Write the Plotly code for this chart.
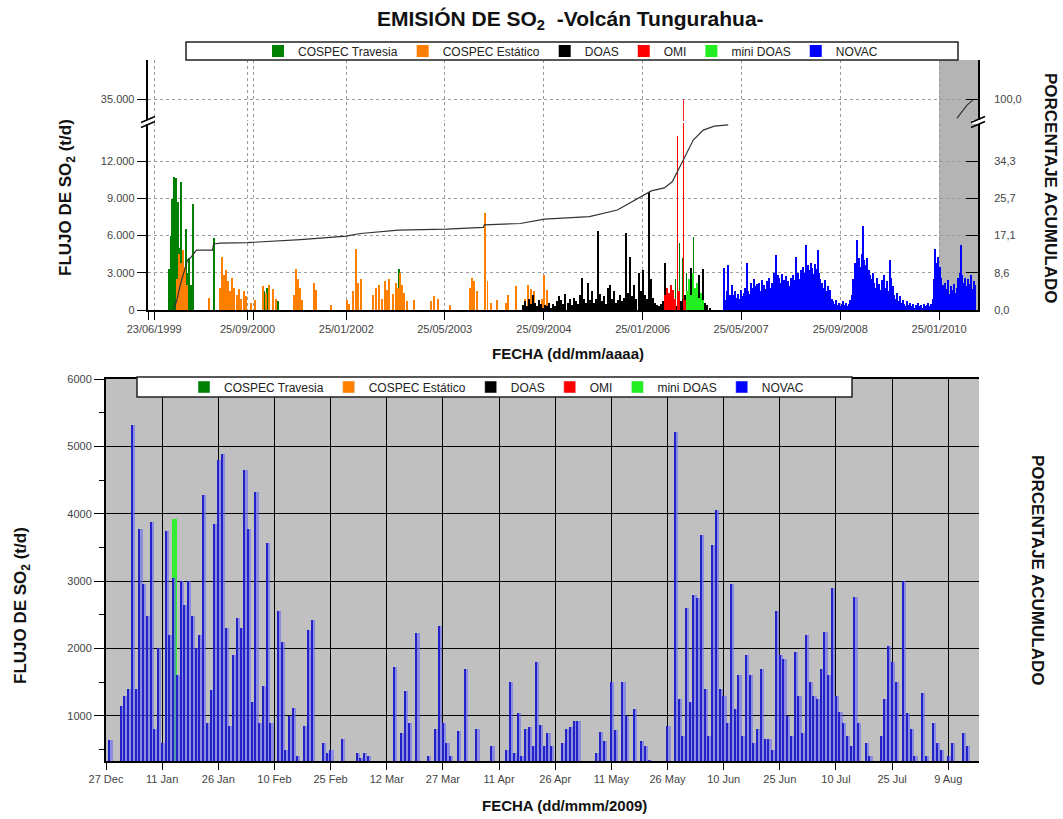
import plotly.graph_objects as go
import pandas as pd
from datetime import datetime

W, H = 1063, 819
def X(px): return px / W
def Y(py): return 1 - py / H

def yr(v):
    y = int(v)
    s = datetime(y, 1, 1)
    e = datetime(y + 1, 1, 1)
    return s + (e - s) * (v - y)

DAY = 86400000
FONT = "Liberation Sans, Arial, sans-serif"

# ---------------- DATA (top chart, dates as decimal years) ----------------
series_names = ["COSPEC Travesia", "COSPEC Estático", "DOAS", "OMI", "mini DOAS", "NOVAC"]

trav_yr = [1999.668, 1999.695, 1999.708, 1999.722, 1999.735, 1999.749, 1999.762, 1999.776,
           1999.789, 1999.803, 1999.830, 1999.843, 1999.870, 1999.897, 1999.910, 1999.937,
           1999.964, 1999.991, 2000.275, 2000.639, 2000.949, 2000.990, 2001.070, 2001.138,
           2002.770, 2006.506, 2006.560, 2006.600, 2006.654, 2006.708, 2006.749, 2006.802,
           2006.870]
trav_val = [3300, 6000, 8900, 7500, 10700, 9800, 10600, 4000,
            8700, 5000, 10300, 4500, 2500, 6500, 3000, 4200,
            2000, 8500, 5800, 900, 1500, 1800, 1000, 700,
            3300, 2500, 5400, 4200, 3000, 1800, 5900, 2200,
            1500]

est_yr = [1999.776, 1999.803, 1999.830, 1999.857, 1999.884, 1999.910, 2000.207, 2000.356,
          2000.383, 2000.410, 2000.437, 2000.464, 2000.491, 2000.518, 2000.545, 2000.585,
          2000.612, 2000.639, 2000.679, 2000.706, 2000.774, 2000.828, 2000.936, 2000.976,
          2001.017, 2001.070, 2001.111, 2001.354, 2001.381, 2001.408, 2001.435, 2001.462,
          2001.624, 2001.651, 2001.853, 2002.069, 2002.096, 2002.150, 2002.190, 2002.217,
          2002.257, 2002.419, 2002.460, 2002.500, 2002.541, 2002.581, 2002.608, 2002.635,
          2002.689, 2002.729, 2002.756, 2002.783, 2002.810, 2002.837, 2002.878, 2002.972,
          2003.201, 2003.242, 2003.296, 2003.458, 2003.727, 2003.754, 2003.781, 2003.822,
          2003.930, 2003.970, 2004.011, 2004.092, 2004.213, 2004.240, 2004.348, 2004.469,
          2004.510, 2004.550, 2004.591, 2004.699, 2004.726, 2004.766]
est_val = [2500, 4500, 3800, 4800, 3500, 2000, 1000, 1800,
           4300, 2800, 3200, 2300, 1500, 2600, 1800, 1200,
           1700, 900, 1500, 1100, 600, 800, 1900, 1400,
           2000, 1700, 900, 1200, 3300, 2500, 1800, 800,
           2200, 1600, 400, 800, 500, 1500, 4900, 2200,
           2500, 1200, 1800, 2000, 900, 2300, 1600, 2500,
           1300, 2200, 1800, 3000, 2000, 1400, 700, 800,
           700, 1100, 900, 400, 1800, 2600, 2300, 1500,
           7800, 2300, 600, 800, 600, 1200, 1900, 900,
           2000, 1700, 1500, 900, 2800, 1600]

doas_start = "2004-06-13"   # one value every 10 days
doas_val = [400, 700, 300, 900, 500, 1200, 600, 300, 800,
            500, 200, 400, 300, 600, 200, 500, 300, 700,
            1100, 800, 500, 1300, 600, 900, 400, 1000, 700,
            500, 1200, 2600, 900, 600, 2200, 800, 1500, 600,
            900, 6400, 1300, 700, 1100, 500, 1800, 2000, 900,
            1500, 600, 800, 1200, 700, 1000, 6200, 1400, 4300,
            1100, 2000, 900, 3000, 1500, 3200, 1200, 900, 9500,
            2500, 1000, 600, 400, 300, 500, 700, 3800, 1500,
            1000, 600, 400, 800, 300, 500, 700, 900, 1200,
            800, 1500, 3400, 2500, 1800, 1000, 2800, 1200,
            3300, 600, 400, 200]

omi_yr = [2006.371, 2006.398, 2006.425, 2006.452, 2006.479, 2006.506, 2006.533, 2006.560,
          2006.614, 2006.641]
omi_val = [1200, 1800, 1400, 2000, 1600, 900, 14000, 1500, 35000, 800]

mini_yr = [2006.654, 2006.681, 2006.708, 2006.735, 2006.762, 2006.789, 2006.816, 2006.843,
           2006.883]
mini_val = [1500, 2500, 1200, 3000, 1800, 2200, 1000, 1400, 800]

novac_start = "2007-03-01"  # weekly values
novac_val = [3400, 800, 1500, 3600, 1200, 900, 2000,
             1200, 1500, 1000, 1300, 900, 1600, 1100, 1400, 1800, 3800,
             1500, 1300, 2200, 1800, 2500, 1900, 2100, 1600, 2200, 1500, 2400, 2000, 1700, 2300,
             2000, 2600, 1800, 2200, 3000, 2500, 4400, 2800,
             2600, 2200, 2900, 2400, 2000, 2700, 2300, 1900, 2600, 2100, 2800, 2400, 4300,
             3000, 2500, 3200, 2800, 3500, 3000,
             5200,
             3600, 3200, 3800, 3400, 2900, 3700, 3300, 4800, 3000, 2500,
             2200, 1800, 2400, 1500, 1900, 1200, 1600,
             900, 700, 500, 800, 400, 600, 300, 500, 700, 400, 600, 300, 500,
             800, 1200, 2500, 3800, 2900, 5600, 4200,
             3500, 4500, 6800, 4000, 3600, 4200, 3200, 2800,
             2500, 3000, 2200, 1800, 2600, 2100, 1600, 2400, 2000, 2800, 1800, 2300, 1500, 4000,
             2600, 1900, 1200, 900, 1400, 700, 1100, 600, 800,
             500, 300, 700, 400, 600, 300, 500, 200, 400, 300, 600, 300, 400, 200, 500, 300,
             400, 600, 300, 500, 900, 2500,
             4900, 3800, 4300, 3500, 2600,
             2000, 1500, 2200, 1700, 2400, 1300, 1900, 1600, 2100, 1400, 1800, 2600,
             3000, 5200, 2800, 2200, 2600,
             1900, 2500, 2100, 2800, 1700, 2300, 2000]

cum_yr = [1999.735, 1999.776, 1999.830, 1999.884, 1999.924, 1999.964, 2000.045, 2000.261,
          2000.275, 2000.369, 2000.733, 2001.448, 2002.069, 2002.257, 2002.770, 2003.417,
          2003.916, 2003.930, 2004.415, 2004.739, 2005.346, 2005.724, 2006.007, 2006.182,
          2006.357, 2006.465, 2006.614, 2006.749, 2006.884, 2007.033, 2007.221]
cum_pct = [0.3, 2.0, 6.0, 9.5, 11.5, 12.0, 13.8, 13.8,
           15.2, 15.4, 15.5, 16.2, 17.0, 17.6, 18.4, 18.6,
           19.0, 19.6, 19.9, 20.9, 21.5, 23.0, 25.8, 27.4,
           28.1, 29.5, 34.5, 39.1, 41.4, 42.3, 42.6]
cum2_yr = [2010.309, 2010.444, 2010.525]
cum2_pct = [95.6, 98.6, 99.8]

top_tick_dates = ["1999-05-25", "1999-06-23", "2000-09-25", "2000-10-23", "2002-01-25",
                  "2003-05-25", "2004-09-25", "2006-01-25", "2007-05-25", "2008-09-25",
                  "2010-01-25"]
top_tick_text = [" ", "23/06/1999", "25/09/2000", " ", "25/01/2002",
                 "25/05/2003", "25/09/2004", "25/01/2006", "25/05/2007", "25/09/2008",
                 "25/01/2010"]
flux_ticks = [0, 3000, 6000, 9000, 12000]
flux_text = ["0", "3.000", "6.000", "9.000", "12.000"]
flux_hi_ticks = [35000]
flux_hi_text = ["35.000"]
pct_ticks = [0, 60 / 7, 120 / 7, 180 / 7, 240 / 7]
pct_text = ["0,0", "8,6", "17,1", "25,7", "34,3"]
pct_hi_ticks = [100]
pct_hi_text = ["100,0"]
full_flux = 35000  # 100 %

# ---------------- DATA (bottom chart, daily NOVAC 2009) ----------------
bot_start = "2008-12-27"
bot_novac = [0, 640, 0, 0, 1150, 1300, 1400, 5320, 1400, 3780,
             2950, 2480, 3880, 800, 2000, 600, 3750, 2200, 3050, 1600,
             3000, 2650, 3000, 2480, 2000, 2200, 4280, 900, 1380, 3850,
             4800, 4880, 2300, 850, 1900, 2450, 2300, 4650, 3780, 1200,
             4330, 900, 1450, 3560, 900, 300, 2550, 2100, 500, 1000,
             1120, 400, 0, 850, 2270, 2420, 0, 0, 600, 450,
             500, 0, 0, 650, 0, 0, 0, 450, 380, 450,
             400, 0, 0, 0, 0, 0, 0, 1730, 0, 750,
             1370, 900, 0, 2230, 0, 0, 400, 0, 800, 2330,
             900, 600, 400, 0, 780, 0, 1700, 0, 0, 800,
             0, 0, 0, 560, 0, 0, 0, 500, 1500, 450,
             1040, 400, 800, 840, 560, 1800, 870, 550, 750, 560,
             0, 0, 600, 800, 830, 920, 920, 0, 0, 0,
             0, 450, 760, 630, 0, 1500, 790, 0, 1500, 1000,
             0, 1100, 0, 620, 550, 350, 0, 0, 0, 0,
             850, 0, 5220, 1250, 700, 2600, 1200, 2800, 2750, 3690,
             1400, 700, 3540, 4060, 1400, 1300, 900, 2950, 1100, 1600,
             700, 1900, 1600, 600, 800, 1700, 650, 650, 500, 2550,
             1900, 1850, 1000, 700, 1950, 1300, 750, 2200, 1500, 1300,
             1250, 1700, 2250, 1600, 2900, 1300, 1050, 900, 700, 560,
             2770, 900, 0, 600, 400, 0, 0, 700, 1250, 2030,
             1800, 1500, 0, 3000, 1040, 800, 400, 0, 1340, 400,
             0, 900, 600, 500, 0, 400, 600, 0, 0, 750,
             550, 0, 0]
bot_mini_dates = ["2009-01-14"]
bot_mini_vals = [3920]
bot_pct_ticks = [1000 / 350, 2000 / 350, 3000 / 350, 4000 / 350, 5000 / 350, 6000 / 350]
bot_pct_text = ["2,9", "5,7", "8,6", "11,4", "14,3", "17,1"]

colors = ["#008000", "#ff8000", "#000000", "#ff0000", "#22ee22", "#0000ff"]

# ---------------- FIGURE ----------------
fig = go.Figure()

# OMI: wide bars for the cluster, thin lines for the two tall spikes
omi_width = [(2 if v > 10000 else 8) * DAY for v in omi_val]
top_series = [
    ([yr(v) for v in trav_yr], trav_val, 4 * DAY),
    ([yr(v) for v in est_yr], est_val, 4 * DAY),
    (list(pd.date_range(doas_start, periods=len(doas_val), freq="10D")), doas_val, 7 * DAY),
    ([yr(v) for v in omi_yr], omi_val, omi_width),
    ([yr(v) for v in mini_yr], mini_val, 5 * DAY),
    (list(pd.date_range(novac_start, periods=len(novac_val), freq="7D")), novac_val, 7 * DAY),
]
for name, col, (xs, ys, wd) in zip(series_names, colors, top_series):
    fig.add_trace(go.Bar(x=xs, y=ys, name=name, width=wd,
                         marker=dict(color=col, line=dict(width=0)),
                         xaxis="x", yaxis="y", legend="legend"))
# upper (broken) panel: only OMI exceeds the break
fig.add_trace(go.Bar(x=[yr(v) for v in omi_yr], y=omi_val, width=omi_width,
                     marker=dict(color="#ff3030", line=dict(width=0)),
                     xaxis="x", yaxis="y3", showlegend=False))
fig.add_trace(go.Scatter(x=[yr(v) for v in cum_yr], y=cum_pct, mode="lines",
                         line=dict(color="#333333", width=1.2),
                         xaxis="x", yaxis="y2", showlegend=False))
fig.add_trace(go.Scatter(x=[yr(v) for v in cum2_yr], y=cum2_pct, mode="lines",
                         line=dict(color="#333333", width=1.2),
                         xaxis="x", yaxis="y4", showlegend=False))

# bottom chart: legend entries (zero-height placeholders) + data
for name, col in zip(series_names, colors):
    fig.add_trace(go.Bar(x=[bot_start], y=[0], name=name, marker=dict(color=col),
                         xaxis="x2", yaxis="y5", legend="legend2"))
bot_dates = pd.date_range(bot_start, periods=len(bot_novac), freq="D")
fig.add_trace(go.Bar(x=pd.to_datetime(bot_mini_dates), y=bot_mini_vals,
                     width=1.4 * DAY, offset=-0.5 * DAY,
                     marker=dict(color="#33ee33", line=dict(width=0)),
                     xaxis="x2", yaxis="y5", showlegend=False))
fig.add_trace(go.Bar(x=bot_dates, y=bot_novac, width=1.0 * DAY, offset=-0.2 * DAY,
                     marker=dict(color="rgba(105,105,245,0.6)", line=dict(width=0)),
                     xaxis="x2", yaxis="y5", showlegend=False))
fig.add_trace(go.Bar(x=bot_dates, y=bot_novac, width=0.28 * DAY, offset=-0.2 * DAY,
                     marker=dict(color="#2222c8", line=dict(width=0)),
                     xaxis="x2", yaxis="y5", showlegend=False))

tick_font = dict(family=FONT, size=11, color="#444")
axis_common = dict(showline=True, linecolor="black", linewidth=2, tickcolor="black",
                   zeroline=False, tickfont=tick_font, automargin=False)

lo_top = 12000 * 187 / 149
hi_bot = 35000 - 22 * 12000 / 149
hi_top = hi_bot + 61 * 12000 / 149
x_range_top = ["1999-05-22", "2010-08-05"]

fig.update_layout(
    width=W, height=819, autosize=False,
    margin=dict(l=0, r=0, t=0, b=0, pad=0, autoexpand=False),
    paper_bgcolor="white", plot_bgcolor="white",
    barmode="overlay", bargap=0,
    font=dict(family=FONT, color="#222"),
    xaxis=dict(domain=[X(147.7), X(978)], anchor="y", type="date", range=x_range_top,
               tickmode="array", tickvals=top_tick_dates, ticktext=top_tick_text, tickangle=0,
               ticks="outside", ticklen=8, showgrid=True, gridcolor="#9a9a9a", griddash="dot",
               **axis_common),
    xaxis3=dict(overlaying="x", anchor="y3", side="top", type="date", range=x_range_top,
                tickmode="array", tickvals=top_tick_dates, ticks="inside", ticklen=9,
                showticklabels=False, showgrid=False, showline=True, linecolor="black",
                linewidth=2, tickcolor="black", zeroline=False, automargin=False),
    yaxis=dict(domain=[Y(310), Y(123)], anchor="x", range=[0, lo_top],
               tickmode="array", tickvals=flux_ticks, ticktext=flux_text,
               ticks="outside", ticklen=9, showgrid=True, gridcolor="#9a9a9a", griddash="dot",
               **axis_common),
    yaxis2=dict(overlaying="y", side="right", anchor="x", range=[0, lo_top / full_flux * 100],
                tickmode="array", tickvals=pct_ticks, ticktext=pct_text,
                ticks="inside", ticklen=12, showgrid=False, ticklabelstandoff=12,
                **axis_common),
    yaxis3=dict(domain=[Y(121), Y(60)], anchor="x", range=[hi_bot, hi_top],
                tickmode="array", tickvals=flux_hi_ticks, ticktext=flux_hi_text,
                ticks="outside", ticklen=9, showgrid=True, gridcolor="#9a9a9a", griddash="dot",
                **axis_common),
    yaxis4=dict(overlaying="y3", side="right", anchor="x",
                range=[hi_bot / full_flux * 100, hi_top / full_flux * 100],
                tickmode="array", tickvals=pct_hi_ticks, ticktext=pct_hi_text,
                ticks="inside", ticklen=12, showgrid=False, ticklabelstandoff=12,
                **axis_common),
    xaxis2=dict(domain=[X(106), X(979)], anchor="y5", type="date",
                range=["2008-12-27", "2009-08-17 05:00"], tick0="2008-12-27", dtick=15 * DAY,
                tickformat="%-d %b", tickangle=0, ticks="outside", ticklen=7, mirror=True,
                showgrid=True, gridcolor="black", gridwidth=1, **axis_common),
    yaxis5=dict(domain=[Y(761), Y(379)], anchor="x2", range=[330, 6000], tick0=0, dtick=1000,
                tickformat="d", ticks="outside", ticklen=10,
                minor=dict(tick0=0, dtick=500, ticks="outside", ticklen=5, tickcolor="black",
                           showgrid=False),
                showgrid=True, gridcolor="black", gridwidth=1, **axis_common),
    yaxis6=dict(overlaying="y5", side="right", anchor="x2", range=[330 / 350, 6000 / 350],
                tickmode="array", tickvals=bot_pct_ticks, ticktext=bot_pct_text,
                ticks="inside", ticklen=9, showgrid=False, ticklabelstandoff=12,
                **axis_common),
    legend=dict(orientation="h", x=X(258), y=Y(51), xanchor="left", yanchor="middle",
                bgcolor="rgba(0,0,0,0)", borderwidth=0,
                font=dict(family=FONT, size=12, color="#222")),
    legend2=dict(orientation="h", x=X(184), y=Y(387), xanchor="left", yanchor="middle",
                 bgcolor="rgba(0,0,0,0)", borderwidth=0,
                 font=dict(family=FONT, size=12, color="#222")),
)

shapes = [
    dict(type="rect", xref="x", yref="paper", x0="2010-01-25", x1=x_range_top[1],
         y0=Y(310), y1=Y(60), fillcolor="#b4b4b4", line=dict(width=0), layer="below"),
    dict(type="rect", xref="x2 domain", yref="y5 domain", x0=0, x1=1, y0=0, y1=1,
         fillcolor="#c0c0c0", line=dict(width=0), layer="below"),
    dict(type="rect", xref="paper", yref="paper", x0=X(186), x1=X(958), y0=Y(60), y1=Y(42),
         fillcolor="white", line=dict(color="#222", width=1.5), layer="above"),
    dict(type="rect", xref="paper", yref="paper", x0=X(137), x1=X(852), y0=Y(397), y1=Y(377),
         fillcolor="white", line=dict(color="#222", width=1.5), layer="above"),
]
for bx, by in [(148, 122), (978, 122)]:
    shapes.append(dict(type="rect", xref="paper", yref="paper", x0=X(bx - 6), x1=X(bx + 6),
                       y0=Y(by + 2), y1=Y(by - 2), fillcolor="white", line=dict(width=0),
                       layer="above"))
    for dy in (-2.5, 2.5):
        shapes.append(dict(type="line", xref="paper", yref="paper",
                           x0=X(bx - 7), y0=Y(by + dy + 3), x1=X(bx + 7), y1=Y(by + dy - 3),
                           line=dict(color="black", width=1.5), layer="above"))
fig.update_layout(shapes=shapes)

htitle = dict(family=FONT, size=15, color="#111")
vtitle = dict(family=FONT, size=17, color="#111")
ann = [
    dict(text="<b>EMISIÓN DE SO<sub>2</sub>\u00a0\u00a0-Volcán Tungurahua-</b>", x=X(570), y=Y(20),
         font=dict(family=FONT, size=21, color="#111")),
    dict(text="<b>FECHA (dd/mm/aaaa)</b>", x=X(568), y=Y(353), font=htitle),
    dict(text="<b>FECHA (dd/mmm/2009)</b>", x=X(564), y=Y(805), font=htitle),
    dict(text="<b>FLUJO DE SO<sub>2</sub> (t/d)</b>", x=X(67), y=Y(198), textangle=-90, font=vtitle),
    dict(text="<b>FLUJO DE SO<sub>2</sub> (t/d)</b>", x=X(22), y=Y(606), textangle=-90, font=vtitle),
    dict(text="<b>PORCENTAJE ACUMULADO</b>", x=X(1050), y=Y(188), textangle=90, font=vtitle),
    dict(text="<b>PORCENTAJE ACUMULADO</b>", x=X(1038), y=Y(570), textangle=90, font=vtitle),
]
for a in ann:
    a.update(xref="paper", yref="paper", showarrow=False, xanchor="center", yanchor="middle")
fig.update_layout(annotations=ann)

fig.write_html("out.html", config={"displayModeBar": False},
               post_script="document.body.style.margin='0px';")
